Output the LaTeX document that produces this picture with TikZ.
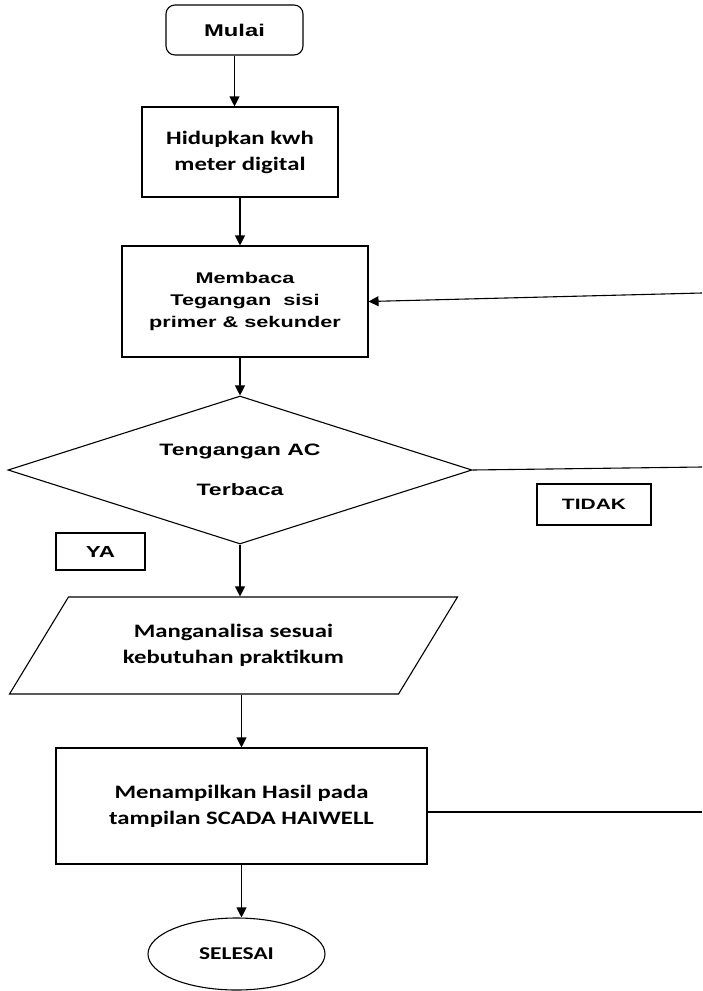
\documentclass[tikz,border=0pt]{standalone}
\usepackage{fontspec}
\newfontfamily\arialb{Liberation Sans}[FakeStretch=1.4]
\newfontfamily\calib{Carlito}[FakeStretch=1.3]
\usetikzlibrary{shapes.geometric,arrows.meta}

\begin{document}
\begin{tikzpicture}[x=1pt,y=-1pt,line width=1.1pt,>={Triangle[length=10pt,width=10pt]},
		box/.style={draw,rectangle,align=center,inner sep=0pt},
		afont/.style={font=\arialb\bfseries\fontsize{#1}{22}\selectfont},
		cfont/.style={font=\calib\bfseries\fontsize{#1}{26}\selectfont}]
		% fix the page size
		\useasboundingbox (0,0) rectangle (702,991);

		% draw the flow steps
		\node[box,rounded corners=9pt,minimum width=137pt,minimum height=50pt,afont=17] (mulai) at (234.5,30) {Mulai};
		\node[box,minimum width=196pt,minimum height=90pt,cfont=19] (hidup) at (240,152) {Hidupkan kwh\\meter digital};
		\node[box,minimum width=246pt,minimum height=111pt,afont=15.5] (baca) at (245,301.5) {Membaca\\Tegangan\ \ sisi\\primer \& sekunder};
		\node[diamond,draw,align=center,inner sep=0pt,aspect=3.135,minimum width=464pt,minimum height=148pt,
			font=\arialb\bfseries\fontsize{16.5}{40}\selectfont] (cek) at (240,470) {Tengangan AC\\Terbaca};
		\node[trapezium,draw,align=center,inner sep=0pt,trapezium left angle=47,trapezium right angle=133,
			trapezium stretches=true,minimum width=449pt,minimum height=97pt,cfont=19] (analisa) at (233.5,645.5)
			{Manganalisa sesuai\\kebutuhan praktikum};
		\node[box,minimum width=371pt,minimum height=116pt,cfont=19] (tampil) at (241.5,806)
			{Menampilkan Hasil pada\\tampilan SCADA HAIWELL};
		\node[ellipse,draw,inner sep=0pt,minimum width=177pt,minimum height=72pt,cfont=18] (selesai) at (236.5,954) {SELESAI};

		% the answer tags
		\node[box,minimum width=89pt,minimum height=37pt,afont=16] (ya) at (100.5,551.5) {YA};
		\node[box,minimum width=114pt,minimum height=41pt,afont=15] (tidak) at (594,504.5) {TIDAK};

		% draw the arrows down the column
		\draw[->] (mulai.south) -- (mulai.south |- hidup.north);
		\draw[->] (hidup.south) -- (hidup.south |- baca.north);
		\draw[->] (cek.north |- baca.south) -- (cek.north);
		\draw[->] (cek.south) -- (cek.south |- analisa.north);
		\draw[->] (tampil.north |- analisa.south) -- (tampil.north);
		\draw[->] (tampil.south) -- (tampil.south |- selesai.north);

		% lines that leave the picture on the right
		\coordinate (kanan1) at (702,293);
		\coordinate (kanan2) at (702,467);
		\coordinate (kanan3) at (702,812);
		\draw[->] (kanan1) -- (baca.east);
		\draw (cek.east) -- (kanan2);
		\draw (tampil.east |- kanan3) -- (kanan3);
	\end{tikzpicture}
\end{document}
